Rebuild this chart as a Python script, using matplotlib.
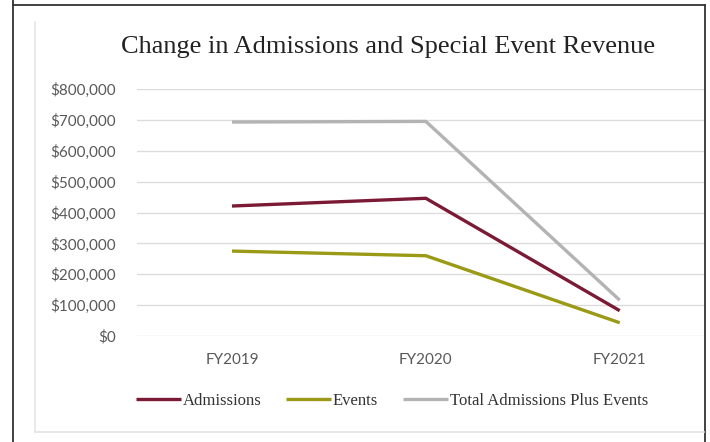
import matplotlib
matplotlib.use("Agg")
import matplotlib.pyplot as plt
from matplotlib.lines import Line2D
from matplotlib.ticker import FuncFormatter

categories = ["FY2019", "FY2020", "FY2021"]
admissions = [421000, 446000, 82000]
events = [275000, 260000, 43000]
total = [693000, 695000, 116000]
yticks = [0, 100000, 200000, 300000, 400000, 500000, 600000, 700000, 800000]

W, H = 710, 442
fig = plt.figure(figsize=(W / 100, H / 100), dpi=100)
fig.patch.set_facecolor("white")

def fx(px):
    return px / W

def fy(py):
    return 1 - py / H

# outer frame (screenshot border)
fig.add_artist(Line2D([fx(13), fx(13)], [fy(0), fy(442)], color="#333333", lw=1.3, transform=fig.transFigure))
fig.add_artist(Line2D([fx(13), fx(705)], [fy(5), fy(5)], color="#333333", lw=1.3, transform=fig.transFigure))
fig.add_artist(Line2D([fx(705), fx(705)], [fy(5), fy(442)], color="#333333", lw=1.3, transform=fig.transFigure))
# inner light chart box
fig.add_artist(Line2D([fx(35), fx(35)], [fy(22), fy(432)], color="#e6e6e6", lw=1.2, transform=fig.transFigure))
fig.add_artist(Line2D([fx(35), fx(704)], [fy(432), fy(432)], color="#e3e3e3", lw=1.2, transform=fig.transFigure))

ax = fig.add_axes([fx(137), fy(336), fx(568), 247 / H])
x = list(range(len(categories)))
ax.plot(x, admissions, color="#7a1a35", lw=2.4, solid_capstyle="butt", label="Admissions", zorder=3)
ax.plot(x, events, color="#9a9a16", lw=2.4, solid_capstyle="butt", label="Events", zorder=3)
ax.plot(x, total, color="#b3b3b3", lw=2.4, solid_capstyle="butt", label="Total Admissions Plus Events", zorder=2)

ax.set_xlim(-0.49, 2.44)
ax.set_ylim(0, 800000)
ax.set_yticks(yticks)
ax.yaxis.set_major_formatter(FuncFormatter(lambda v, p: "$0" if v == 0 else "${:,.0f}".format(v)))
ax.set_xticks(x)
ax.set_xticklabels(categories)
ax.grid(axis="y", color="#dcdcdc", lw=1.0)
ax.set_axisbelow(True)
for s in ax.spines.values():
    s.set_visible(False)
ax.tick_params(axis="both", length=0, labelsize=11, labelcolor="#595959")
ax.tick_params(axis="y", pad=15)
ax.tick_params(axis="x", pad=12)
for lab in ax.get_xticklabels() + ax.get_yticklabels():
    lab.set_fontfamily("Lato")

fig.text(fx(388), fy(47), "Change in Admissions and Special Event Revenue",
         ha="center", va="center", fontsize=19, family="Liberation Serif", color="#222222")

leg = fig.legend(loc="center", bbox_to_anchor=(fx(392), fy(401)), ncol=3, frameon=False,
                 prop={"family": "Liberation Serif", "size": 12}, handlelength=2.7,
                 handletextpad=0.1, columnspacing=1.5)
for t in leg.get_texts():
    t.set_color("#333333")

fig.savefig("out.png", dpi=100, facecolor="white")
